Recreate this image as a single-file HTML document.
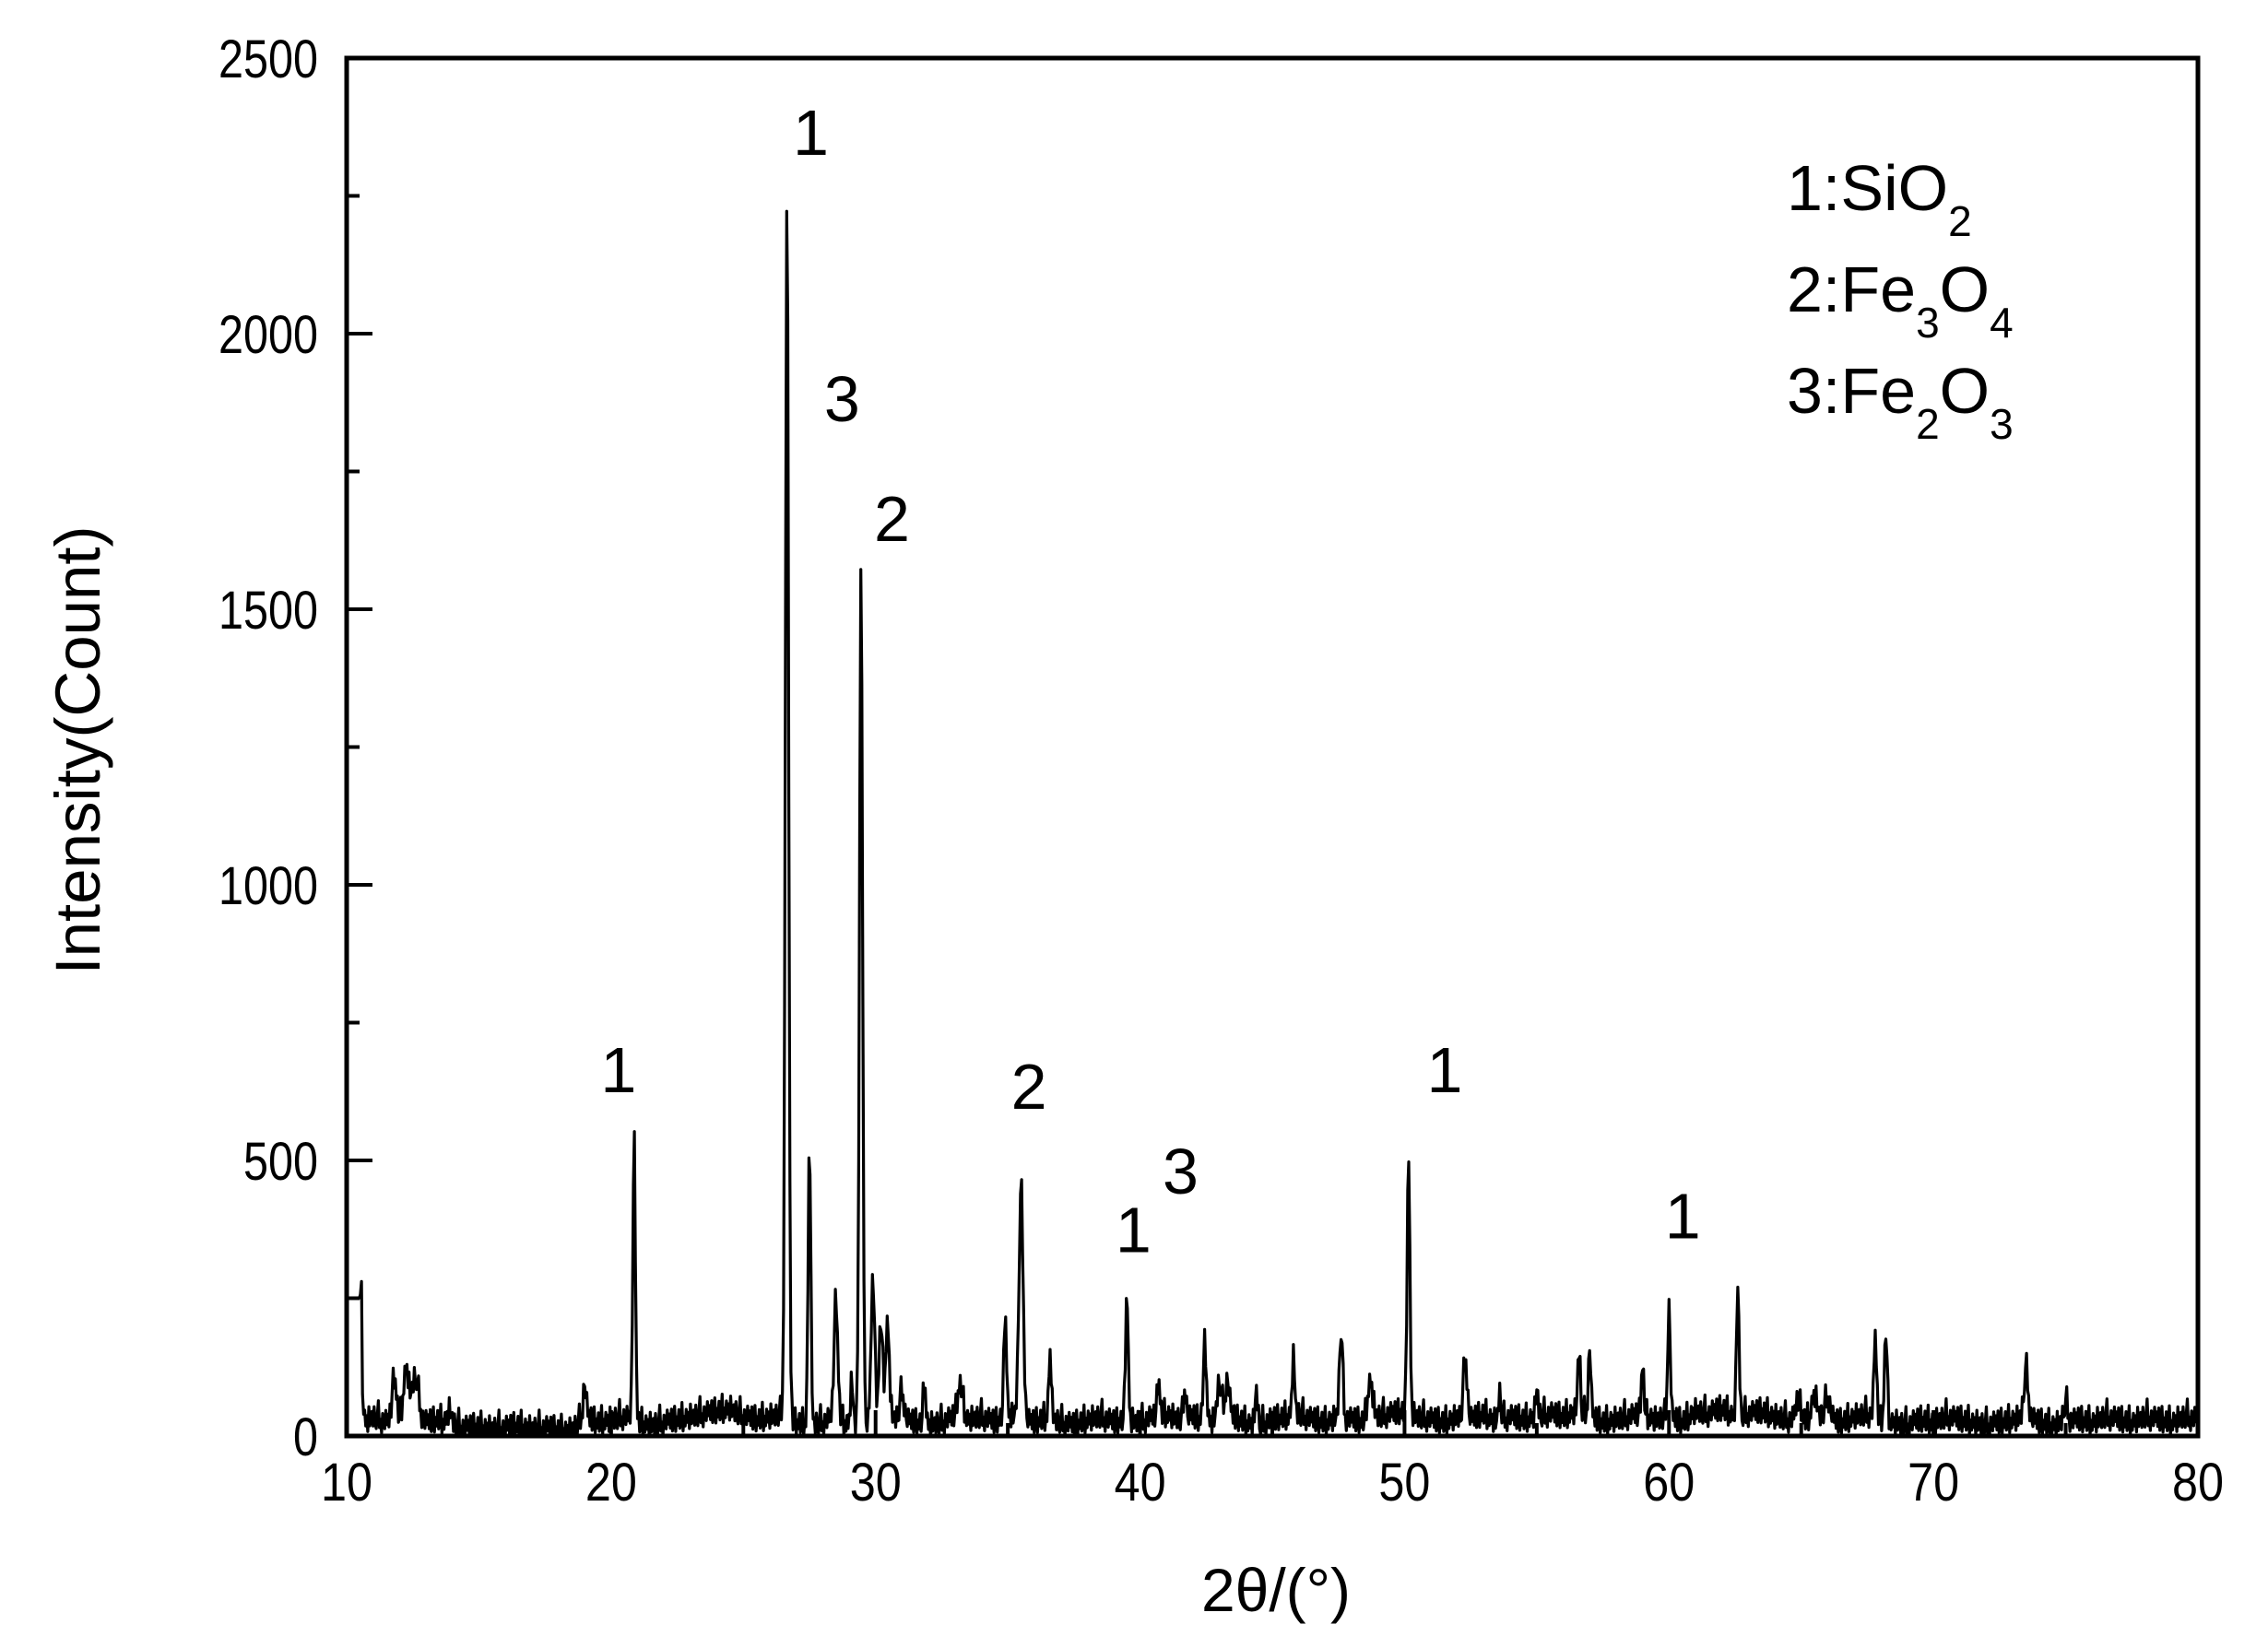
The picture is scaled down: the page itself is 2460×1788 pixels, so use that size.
<!DOCTYPE html>
<html><head><meta charset="utf-8">
<style>
html,body{margin:0;padding:0;background:#fff;}
svg{display:block;font-family:"Liberation Sans",Arial,sans-serif;}
</style></head>
<body>
<svg id="chart" width="2460" height="1788" viewBox="0 0 2460 1788" xmlns="http://www.w3.org/2000/svg">
<g id="ticks"></g>
<path id="spectrum" fill="none" stroke="#000" stroke-width="3.2" stroke-linejoin="round"></path>
<rect x="376" y="63" width="2008" height="1495" fill="none" stroke="#000" stroke-width="5"></rect>
<g id="labels" font-size="58" fill="#000"></g>
<text x="1384" y="1748" font-size="66" text-anchor="middle">2θ/(°)</text>
<text transform="translate(108,814) rotate(-90)" font-size="69" text-anchor="middle">Intensity(Count)</text>
<g id="annots" font-size="70" text-anchor="middle"></g>
<g font-size="70">
<text x="1938" y="228">1:SiO<tspan font-size="46" dy="28">2</tspan></text>
<text x="1938" y="338">2:Fe<tspan font-size="46" dy="28">3</tspan><tspan dy="-28">O</tspan><tspan font-size="46" dy="28">4</tspan></text>
<text x="1938" y="448">3:Fe<tspan font-size="46" dy="28">2</tspan><tspan dy="-28">O</tspan><tspan font-size="46" dy="28">3</tspan></text>
</g>
</svg>
<script>
const xTicks=[10,20,30,40,50,60,70,80];
const yTicks=[0,500,1000,1500,2000,2500];
const peakPos=[10.6,11.8,12.25,12.6,13.9,19.0,20.87,26.65,27.5,28.5,29.1,29.45,29.9,30.2,30.45,31.0,31.85,33.2,34.9,35.5,36.6,39.5,40.7,41.7,42.45,43.0,43.3,44.4,45.8,47.6,48.7,50.15,52.3,53.6,55.0,56.6,57.0,59.0,60.0,62.6,64.9,65.5,66.0,67.8,68.2,73.5,75.0];
const peakHeight=[50,80,90,75,25,60,510,2230,515,215,80,1545,260,180,170,50,75,60,190,415,115,235,65,55,140,70,70,60,105,160,70,480,110,50,50,115,125,90,200,235,40,40,40,145,165,85,35];
const peakWidth=[0.04,0.08,0.1,0.12,0.08,0.06,0.05,0.06,0.05,0.07,0.05,0.06,0.07,0.07,0.07,0.08,0.05,0.1,0.05,0.08,0.05,0.05,0.05,0.05,0.06,0.08,0.08,0.05,0.05,0.06,0.1,0.05,0.07,0.05,0.05,0.05,0.05,0.05,0.05,0.05,0.1,0.1,0.1,0.05,0.05,0.08,0.08];
// background counts every 0.5 deg from 10 to 80
const background=[250,15,30,20,25,30,20,25,15,10,12,8,10,14,8,10,6,5,30,20,25,30,20,15,20,25,30,35,40,45,30,25,30,35,20,15,20,30,15,10,20,30,25,20,15,20,30,25,30,20,35,25,20,30,20,15,25,30,20,25,20,30,35,25,30,20,25,30,20,15,25,30,35,25,20,30,25,20,30,35,40,30,25,20,30,25,35,20,30,25,30,35,30,40,30,20,25,30,35,25,30,20,40,35,45,30,35,40,30,25,20,30,25,20,30,35,25,20,15,25,20,30,25,20,15,20,25,30,20,15,20,25,20,30,25,20,30,25,20,30,25];
const ripple=[0,18,-8,26,-14,6,30,-16,10,-6,22,-12,2,34,-18,8,-10,20,-4,14,-16,28,-8,4,16,-12,24,-6,-14,12,38,-10,6,-18,18,0,-8,26];

const X0=376,X1=2384,Y0=1558,Y1=63;
const sx=v=>X0+(v-10)/70*(X1-X0);
const sy=v=>Y0-v/2500*(Y0-Y1);
const NS='http://www.w3.org/2000/svg';
function mk(tag,attrs,parent){const e=document.createElementNS(NS,tag);for(const k in attrs)e.setAttribute(k,attrs[k]);parent.appendChild(e);return e;}

const tg=document.getElementById('ticks'), lg=document.getElementById('labels');
xTicks.forEach((t,i)=>{
  const l=mk('line',{x1:sx(t),x2:sx(t),y1:Y0,y2:Y0-28,stroke:'#000','stroke-width':4},tg);
  
  
  if(i<xTicks.length-1){const m=mk('line',{x1:sx(t+5),x2:sx(t+5),y1:Y0,y2:Y0-14,stroke:'#000','stroke-width':4},tg);
  
  }
  const s=String(t);
  const tx=mk('text',{x:sx(t),y:1628,'text-anchor':'middle',textLength:s.length*28,lengthAdjust:'spacingAndGlyphs'},lg);tx.textContent=s;
  
  
});
yTicks.forEach((t,i)=>{
  const l=mk('line',{x1:X0,x2:X0+28,y1:sy(t),y2:sy(t),stroke:'#000','stroke-width':4},tg);
  
  
  if(i<yTicks.length-1){const m=mk('line',{x1:X0,x2:X0+14,y1:sy(t+250),y2:sy(t+250),stroke:'#000','stroke-width':4},tg);
  
  }
  const s=String(t);
  const tx=mk('text',{x:345,y:sy(t)+21,'text-anchor':'end',textLength:s.length*27,lengthAdjust:'spacingAndGlyphs'},lg);tx.textContent=s;
  
  
});

let d='';let k=0;
for(let x=10;x<=80.0001;x+=0.04,k++){
  const bi=Math.min(Math.floor((x-10)/0.5),background.length-2);
  const f=(x-10)/0.5-bi;
  let y=background[bi]*(1-f)+background[bi+1]*f;
  if(x<10.58)y=250;
  else y+=ripple[k%ripple.length];
  for(let p=0;p<peakPos.length;p++){const z=(x-peakPos[p])/peakWidth[p];y+=peakHeight[p]*Math.exp(-0.5*z*z);}
  y=Math.max(0,y);
  d+=(d?'L':'M')+sx(x).toFixed(1)+','+sy(y).toFixed(1);
}
document.getElementById('spectrum').setAttribute('d',d);

const annText=['1','3','2','1','2','3','1','1','1'];
const annX=[27.55,28.73,30.62,20.28,35.8,41.53,39.75,51.52,60.52];
const annY=[2324,1841,1624,624,594,440,334,624,359];
const ag=document.getElementById('annots');
annText.forEach((s,i)=>{const t=mk('text',{x:sx(annX[i]),y:sy(annY[i])},ag);t.textContent=s;
  
  });
</script>
</body></html>
